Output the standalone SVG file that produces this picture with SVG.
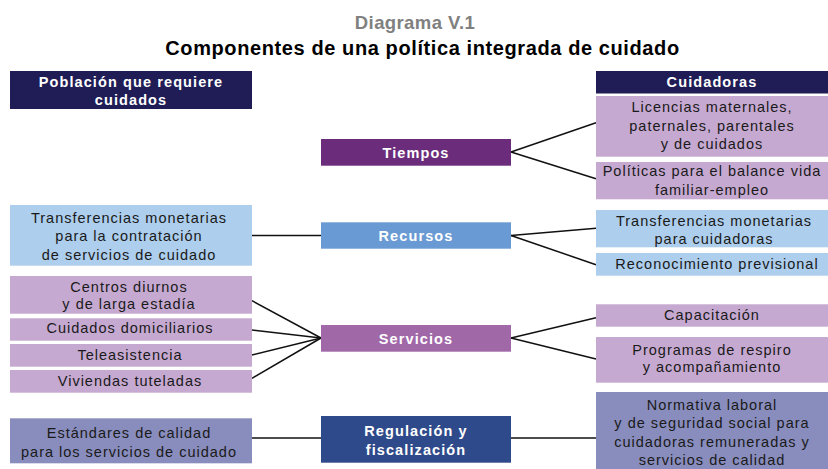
<svg xmlns="http://www.w3.org/2000/svg" width="828" height="469" viewBox="0 0 828 469">
<style>
text{font-family:"Liberation Sans",Arial,sans-serif;text-anchor:middle}
.t1{font-size:18.5px;font-weight:bold;fill:#808080;letter-spacing:0.4px}
.t2{font-size:20px;font-weight:bold;fill:#000;letter-spacing:0.6px}
.h{font-size:14.5px;font-weight:bold;fill:#fff;letter-spacing:1.1px}
.c{font-size:14.5px;font-weight:bold;fill:#fff;letter-spacing:1.1px}
.b{font-size:14.5px;fill:#1a1a1a;letter-spacing:1px}
.navy{fill:#201C55}
.lp{fill:#C6A9D1}
.lb{fill:#ADCEEC}
.sl{fill:#898DBD}
.con line{stroke:#111;stroke-width:1.5}
</style>
<rect width="828" height="469" fill="#fff"/>
<text class="t1" x="415" y="29">Diagrama V.1</text>
<text class="t2" x="422.5" y="55">Componentes de una política integrada de cuidado</text>

<g class="con">
<line x1="511" y1="152" x2="596" y2="122.7"/>
<line x1="511" y1="152" x2="596" y2="178.7"/>
<line x1="511" y1="235.5" x2="596" y2="228.3"/>
<line x1="511" y1="235.5" x2="596" y2="264.7"/>
<line x1="252" y1="235.5" x2="321" y2="235.5"/>
<line x1="321" y1="338" x2="252" y2="300.7"/>
<line x1="321" y1="338" x2="252" y2="330"/>
<line x1="321" y1="338" x2="252" y2="355"/>
<line x1="321" y1="338" x2="252" y2="378.3"/>
<line x1="511" y1="338" x2="596" y2="317.7"/>
<line x1="511" y1="338" x2="596" y2="359"/>
<line x1="252" y1="438" x2="321" y2="438"/>
<line x1="511" y1="438" x2="596" y2="438"/>
</g>

<g id="poblacion"><rect class="navy" x="10" y="71" width="242" height="38"/><text class="h" x="131" y="86.5">Población que requiere</text><text class="h" x="131" y="104.5">cuidados</text></g>
<g id="cuidadoras"><rect class="navy" x="596" y="71" width="232" height="22.5"/><text class="h" x="712" y="86.7">Cuidadoras</text></g>

<g id="tiempos"><rect x="321" y="139" width="190" height="26.7" fill="#6B2D7B"/><text class="c" x="416" y="157.5">Tiempos</text></g>
<g id="recursos"><rect x="321" y="222.3" width="190" height="26.4" fill="#6A9AD3"/><text class="c" x="416" y="240.5">Recursos</text></g>
<g id="servicios"><rect x="321" y="325" width="190" height="26.7" fill="#A168A8"/><text class="c" x="416" y="343.5">Servicios</text></g>
<g id="regulacion"><rect x="321" y="416" width="190" height="46.7" fill="#2F4A8A"/><text class="c" x="416" y="436">Regulación y</text><text class="c" x="416" y="455">fiscalización</text></g>

<g id="licencias"><rect class="lp" x="596" y="96" width="232" height="60.7"/><text class="b" x="712" y="112.3">Licencias maternales,</text><text class="b" x="712" y="130.8">paternales, parentales</text><text class="b" x="712" y="149.3">y de cuidados</text></g>
<g id="politicas"><rect class="lp" x="596" y="162" width="232" height="37.3"/><text class="b" x="712" y="176">Políticas para el balance vida</text><text class="b" x="712" y="194.5">familiar-empleo</text></g>
<g id="transf-cuid"><rect class="lb" x="596" y="210" width="232" height="37.3"/><text class="b" x="714" y="225.5">Transferencias monetarias</text><text class="b" x="714" y="243.5">para cuidadoras</text></g>
<g id="reconocimiento"><rect class="lb" x="596" y="253" width="232" height="22.7"/><text class="b" x="717" y="268.5">Reconocimiento previsional</text></g>
<g id="capacitacion"><rect class="lp" x="596" y="304.3" width="232" height="22.4"/><text class="b" x="712" y="320">Capacitación</text></g>
<g id="programas"><rect class="lp" x="596" y="337" width="232" height="45.7"/><text class="b" x="712" y="354.7">Programas de respiro</text><text class="b" x="712" y="372.3">y acompañamiento</text></g>
<g id="normativa"><rect class="sl" x="596" y="392" width="232" height="77"/><text class="b" x="712" y="410">Normativa laboral</text><text class="b" x="712" y="428.3">y de seguridad social para</text><text class="b" x="712" y="446.7">cuidadoras remuneradas y</text><text class="b" x="712" y="465">servicios de calidad</text></g>

<g id="transf-serv"><rect class="lb" x="10" y="205" width="242" height="60.7"/><text class="b" x="129" y="222.7">Transferencias monetarias</text><text class="b" x="129" y="241.2">para la contratación</text><text class="b" x="129" y="259.7">de servicios de cuidado</text></g>
<g id="centros"><rect class="lp" x="10" y="276" width="242" height="37.7"/><text class="b" x="129" y="291.7">Centros diurnos</text><text class="b" x="129" y="309.3">y de larga estadía</text></g>
<g id="domiciliarios"><rect class="lp" x="10" y="318.3" width="242" height="22.4"/><text class="b" x="130" y="333.3">Cuidados domiciliarios</text></g>
<g id="teleasistencia"><rect class="lp" x="10" y="344" width="242" height="22.7"/><text class="b" x="130" y="360">Teleasistencia</text></g>
<g id="viviendas"><rect class="lp" x="10" y="370" width="242" height="22.7"/><text class="b" x="130" y="385.7">Viviendas tuteladas</text></g>
<g id="estandares"><rect class="sl" x="10" y="418.3" width="242" height="45"/><text class="b" x="129" y="437.7">Estándares de calidad</text><text class="b" x="129" y="456.7">para los servicios de cuidado</text></g>
</svg>
